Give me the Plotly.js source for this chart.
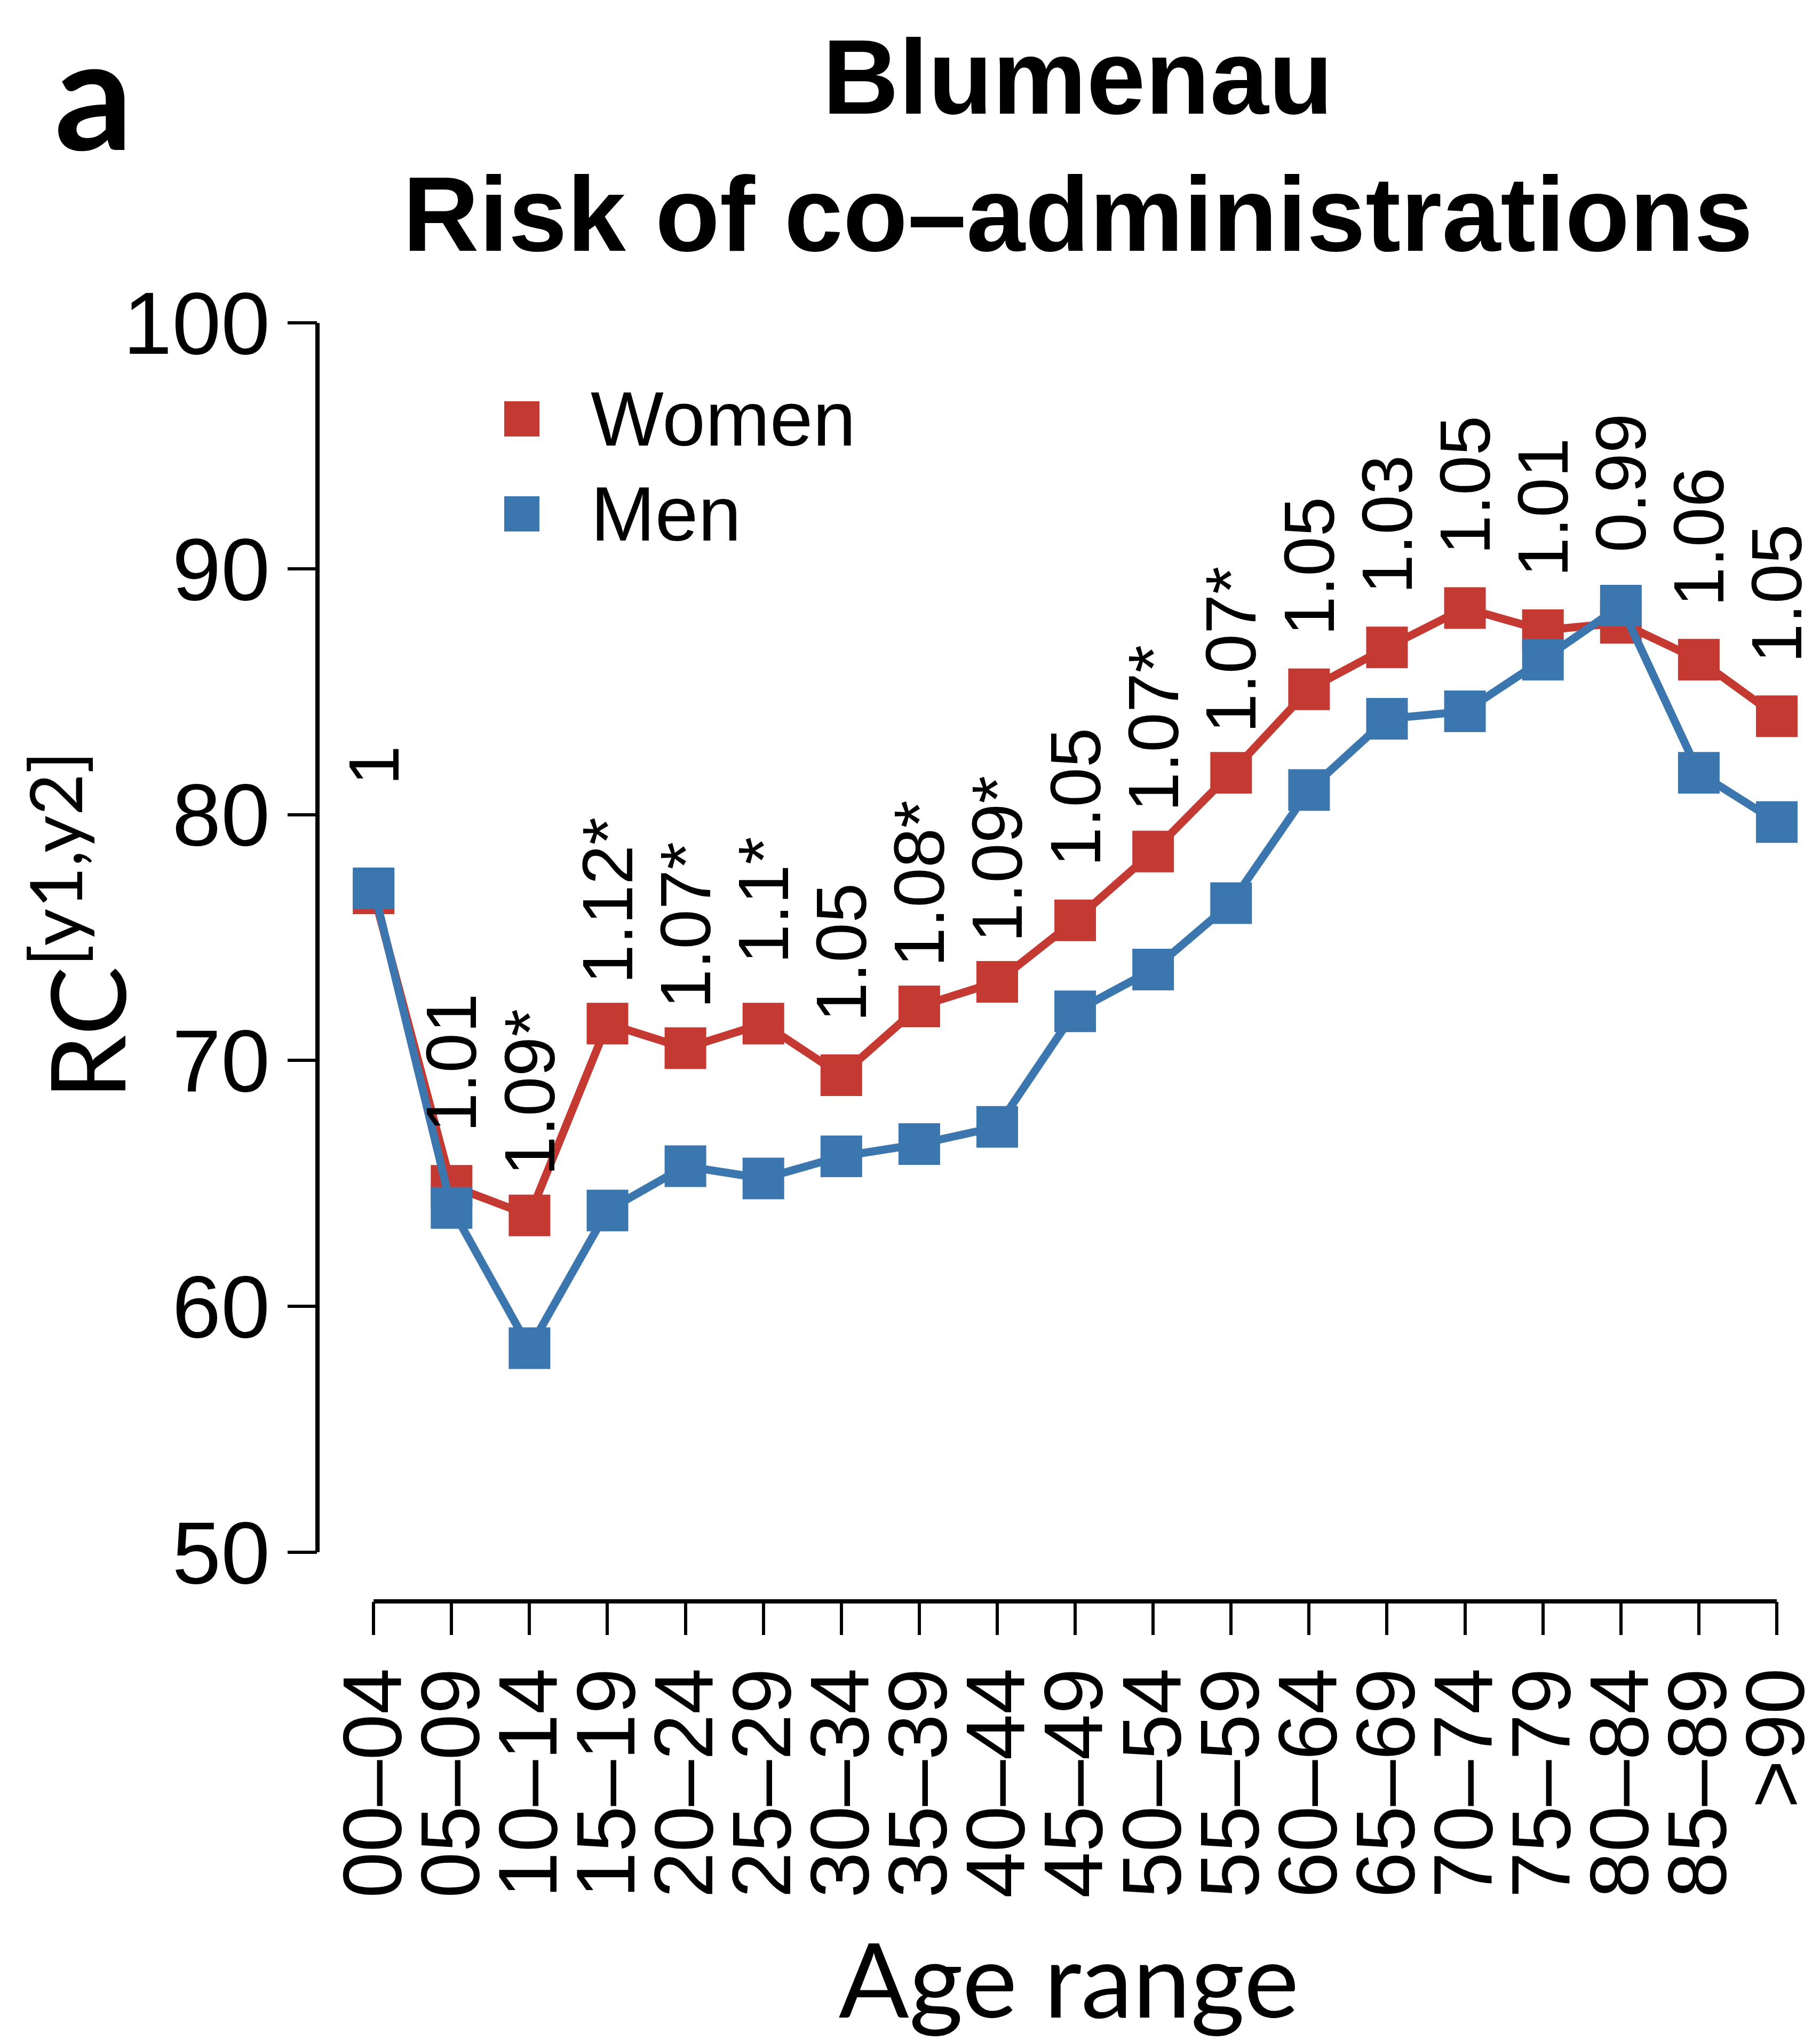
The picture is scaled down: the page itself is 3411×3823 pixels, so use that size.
<!DOCTYPE html>
<html>
<head>
<meta charset="utf-8">
<script src="https://cdn.plot.ly/plotly-3.0.1.min.js"></script>
<style>html,body{margin:0;padding:0;background:#fff;}</style>
</head>
<body>
<div id="chart" style="width:3411px;height:3823px;"></div>
<script>
// ---- data ----
const ageRanges = ["00–04","05–09","10–14","15–19","20–24","25–29","30–34","35–39","40–44","45–49","50–54","55–59","60–64","65–69","70–74","75–79","80–84","85–89",">90"];
const women = [76.8, 64.9, 63.7, 71.5, 70.5, 71.5, 69.4, 72.2, 73.2, 75.7, 78.5, 81.7, 85.1, 86.8, 88.4, 87.5, 87.8, 86.3, 84.0];
const men   = [77.0, 64.0, 58.3, 63.9, 65.7, 65.2, 66.1, 66.6, 67.3, 72.0, 73.7, 76.4, 81.0, 83.9, 84.2, 86.3, 88.5, 81.7, 79.7];
const ratioLabels = ["1","1.01","1.09*","1.12*","1.07*","1.1*","1.05","1.08*","1.09*","1.05","1.07*","1.07*","1.05","1.03","1.05","1.01","0.99","1.06","1.05"];
const yTicks = [50, 60, 70, 80, 90, 100];
const seriesNames = ["Women", "Men"];
const seriesColors = ["#C43A33", "#3C76AE"];

// ---- layout geometry (pixels) ----
const W = 3411, H = 3823;
const M = {l: 595, r: 0, t: 513, b: 822};
const PW = W - M.l - M.r, PH = H - M.t - M.b;
const px2x = px => (px - M.l) / PW;
const px2y = py => (H - M.b - py) / PH;

const seriesData = [women, men];
const traces = seriesNames.map((name, k) => ({
  type: 'scatter',
  mode: 'lines+markers',
  name: name,
  x: ageRanges,
  y: seriesData[k],
  line: {color: seriesColors[k], width: 15},
  marker: {symbol: 'square', size: 78, color: seriesColors[k], line: {width: 0}},
  cliponaxis: false
}));

const annotations = [];
// ratio labels above the higher point
ageRanges.forEach((cat, i) => {
  annotations.push({
    x: cat, y: Math.max(women[i], men[i]) + 5,
    xref: 'x', yref: 'y',
    text: ratioLabels[i],
    textangle: -90, showarrow: false,
    xanchor: 'center', yanchor: 'middle',
    font: {family: 'Liberation Sans, Arial, sans-serif', size: 134, color: '#000'}
  });
});
// panel letter
annotations.push({
  x: px2x(100), y: px2y(345), xref: 'paper', yref: 'paper',
  xanchor: 'left', yanchor: 'bottom', showarrow: false,
  text: '<b>a</b>',
  font: {family: 'Lato, sans-serif', size: 290, color: '#000', weight: 'bold'}
});
// y-axis title
annotations.push({
  x: px2x(148), y: px2y(1735), xref: 'paper', yref: 'paper',
  xanchor: 'center', yanchor: 'middle', showarrow: false, textangle: -90,
  text: 'RC<sup>[y1,y2]</sup>',
  font: {family: 'Lato, sans-serif', size: 194, color: '#000'}
});
// legend
const shapes = [];
const legendRows = [785, 963];
seriesNames.forEach((name, k) => {
  shapes.push({
    type: 'rect', xref: 'paper', yref: 'paper',
    x0: px2x(945), x1: px2x(1011), y0: px2y(legendRows[k] + 33), y1: px2y(legendRows[k] - 33),
    fillcolor: seriesColors[k], line: {width: 0}
  });
  annotations.push({
    x: px2x(1105), y: px2y(legendRows[k]), xref: 'paper', yref: 'paper',
    xanchor: 'left', yanchor: 'middle', showarrow: false,
    text: name,
    font: {family: 'Liberation Sans, Arial, sans-serif', size: 145, color: '#000'}
  });
});
// axis lines (R style: span first to last tick)
shapes.push({type: 'line', xref: 'paper', yref: 'y', x0: 0, x1: 0,
  y0: yTicks[0], y1: yTicks[yTicks.length - 1], line: {color: '#000', width: 8}});
shapes.push({type: 'line', xref: 'x', yref: 'paper', x0: ageRanges[0], x1: ageRanges[ageRanges.length - 1],
  y0: 0, y1: 0, line: {color: '#000', width: 8}});

const layout = {
  width: W, height: H,
  margin: {l: M.l, r: M.r, t: M.t, b: M.b, pad: 0},
  paper_bgcolor: '#fff', plot_bgcolor: '#fff',
  showlegend: false,
  title: {
    text: '<b>Blumenau</b><br><b>Risk of co–administrations</b>',
    font: {family: 'Liberation Sans, Arial, sans-serif', size: 198, color: '#000'},
    xref: 'paper', x: px2x(2020), xanchor: 'center',
    yref: 'container', y: 1 - 213 / H, yanchor: 'top'
  },
  xaxis: {
    type: 'category',
    range: [-0.72, -0.72 + PW / 146.1],
    tickmode: 'array', tickvals: ageRanges, ticktext: ageRanges,
    showline: false, showgrid: false, zeroline: false,
    ticks: 'outside', ticklen: 62, tickwidth: 6, tickcolor: '#000',
    tickangle: -90,
    tickfont: {family: 'Liberation Sans, Arial, sans-serif', size: 155, color: '#000'},
    title: {text: 'Age range', font: {family: 'Lato, sans-serif', size: 195, color: '#000'}, standoff: 95},
    automargin: false
  },
  yaxis: {
    range: [48, 102],
    tickvals: yTicks,
    showline: false, showgrid: false, zeroline: false,
    ticks: 'outside', ticklen: 55, tickwidth: 6, tickcolor: '#000',
    tickfont: {family: 'Liberation Sans, Arial, sans-serif', size: 165, color: '#000'},
    automargin: false
  },
  shapes: shapes,
  annotations: annotations
};

Plotly.newPlot('chart', traces, layout, {staticPlot: true, displayModeBar: false});
</script>
</body>
</html>
